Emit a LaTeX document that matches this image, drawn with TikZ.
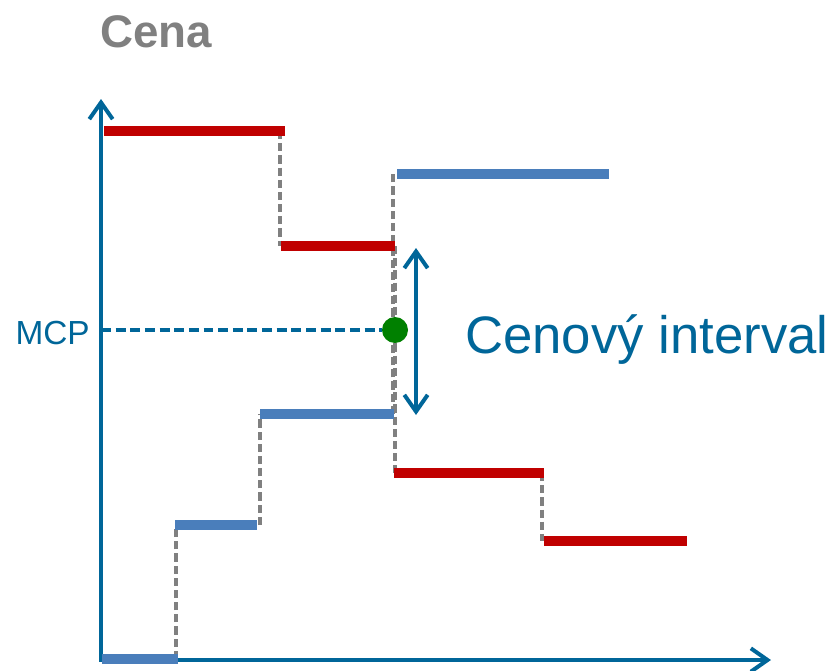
\documentclass[tikz,border=0pt]{standalone}
\usepackage{fontspec}
\setmainfont{Liberation Sans}
\usetikzlibrary{arrows.meta,calc}
\definecolor{osa}{RGB}{0,102,153}
\definecolor{nabidka}{RGB}{192,0,0}
\definecolor{poptavka}{RGB}{74,126,187}
\definecolor{seda}{RGB}{128,128,128}
\definecolor{zelena}{RGB}{0,128,0}

\begin{document}
\begin{tikzpicture}[x=0.03cm,y=-0.03cm,
    osa/.style={draw=osa,line width=3.4pt},
    hrot/.style={-{Straight Barb[length=5mm,width=7mm]}},
    prodej/.style={draw=nabidka,line width=8.5pt},
    nakup/.style={draw=poptavka,line width=8.5pt},
    schod/.style={draw=seda,line width=2.8pt,dash pattern=on 7pt off 3.4pt}]
          %\draw[help lines,step=50] (0,0) grid (833,671);
          \useasboundingbox (0,0) rectangle (833,671);
          \coordinate (O) at (101,660);
          \coordinate (Y) at (101,99);
          \coordinate (X) at (771,660);
          \draw[osa,hrot] (O) -- (Y);
          \draw[osa,hrot] ($(O)+(-1.7,0)$) -- (X);
          % schody
          \draw[schod] (280,131) -- (280,246);
          \draw[schod] (395,246) -- (395,473);
          \draw[schod] (542,473) -- (542,541);
          \draw[schod] (176,659) -- (176,525);
          \draw[schod] (260,525) -- (260,414);
          \draw[schod] (393,414) -- (393,174);
          % nabidka
          \coordinate (P1) at (104,131);
          \coordinate (P2) at (281,246);
          \coordinate (P3) at (394,473);
          \coordinate (P4) at (544,541);
          \draw[prodej] (P1) -- ++(181,0);
          \draw[prodej] (P2) -- ++(114,0);
          \draw[prodej] (P3) -- ++(150,0);
          \draw[prodej] (P4) -- ++(143,0);
          % poptavka
          \coordinate (Q1) at (102,659);
          \coordinate (Q2) at (175,525);
          \coordinate (Q3) at (260,414);
          \coordinate (Q4) at (397,174);
          \draw[nakup] (Q1) -- ++(76,0);
          \draw[nakup] (Q2) -- ++(82,0);
          \draw[nakup] (Q3) -- ++(134,0);
          \draw[nakup] (Q4) -- ++(212,0);
          % MCP
          \coordinate (M) at (101,330);
          \node[circle,fill=zelena,minimum size=26*0.03cm,inner sep=0] (bod) at (395,330) {};
          \draw[osa,line width=2.6pt,dash pattern=on 8.5pt off 4pt] (M) -- (bod);
          \coordinate (H) at (416,248);
          \coordinate (D) at (416,415);
          \draw[osa,{Straight Barb[length=5mm,width=7mm]}-{Straight Barb[length=5mm,width=7mm]}] (H) -- (D);
          \node[anchor=base east,inner sep=0,text=osa,font=\fontsize{28.5}{30}\selectfont] (mcp) at (90,344) {MCP};
          \node[anchor=base west,inner sep=0,text=osa,font=\fontsize{45}{47}\selectfont] (interval) at (465,353) {Cenový interval};
          \node[anchor=base,inner sep=0,text=seda,font=\bfseries\fontsize{39}{40}\selectfont] (cena) at (156,47) {Cena};
\end{tikzpicture}
\end{document}
